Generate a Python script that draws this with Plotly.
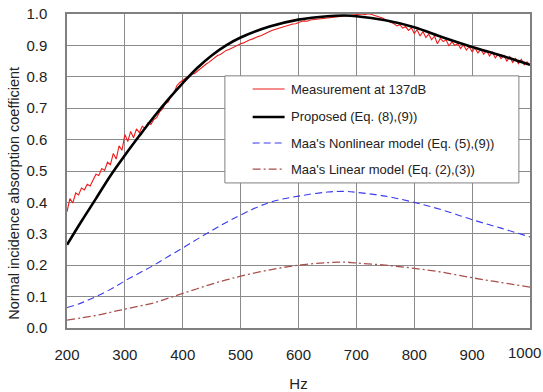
import plotly.graph_objects as go

# Frequency axis for the model curves (Hz)
freq_model = [200, 225, 250, 275, 300, 325, 350, 375, 400, 425, 450, 475, 500,
              550, 600, 650, 680, 700, 750, 800, 850, 900, 950, 1000]

proposed = [0.265, 0.340, 0.412, 0.485, 0.550, 0.612, 0.672, 0.728, 0.780, 0.828,
            0.868, 0.900, 0.925, 0.960, 0.982, 0.993, 0.995, 0.993, 0.980, 0.958,
            0.925, 0.895, 0.868, 0.838]

maa_nonlinear = [0.065, 0.080, 0.100, 0.123, 0.150, 0.175, 0.200, 0.228, 0.255, 0.283,
                 0.310, 0.336, 0.360, 0.400, 0.420, 0.433, 0.435, 0.432, 0.420, 0.400,
                 0.375, 0.345, 0.318, 0.290]

maa_linear = [0.025, 0.032, 0.040, 0.050, 0.060, 0.070, 0.080, 0.095, 0.110, 0.125,
              0.140, 0.153, 0.165, 0.185, 0.200, 0.208, 0.210, 0.207, 0.200, 0.190,
              0.177, 0.160, 0.145, 0.130]

# Measured absorption at 137 dB, 5 Hz resolution
freq_meas = list(range(200, 1001, 5))
measured = [
    0.370, 0.412, 0.398, 0.430, 0.424, 0.446, 0.440, 0.458, 0.452, 0.474,
    0.490, 0.486, 0.508, 0.502, 0.528, 0.520, 0.556, 0.538, 0.580, 0.566,
    0.616, 0.594, 0.626, 0.606, 0.634, 0.622, 0.642, 0.636, 0.654, 0.648,
    0.664, 0.670, 0.688, 0.698, 0.714, 0.720, 0.740, 0.750, 0.772, 0.782,
    0.790, 0.796, 0.800, 0.808, 0.810, 0.818, 0.825, 0.833, 0.840, 0.846,
    0.854, 0.860, 0.868, 0.871, 0.878, 0.884, 0.887, 0.892, 0.897, 0.900,
    0.905, 0.908, 0.913, 0.917, 0.920, 0.925, 0.928, 0.931, 0.936, 0.940,
    0.944, 0.948, 0.951, 0.953, 0.957, 0.959, 0.963, 0.964, 0.968, 0.969,
    0.973, 0.976, 0.978, 0.977, 0.981, 0.982, 0.984, 0.985, 0.986, 0.987,
    0.988, 0.987, 0.990, 0.991, 0.992, 0.991, 0.994, 0.993, 0.995, 0.997,
    0.996, 0.998, 1.000, 0.998, 1.001, 0.999, 0.996, 0.994, 0.990, 0.987,
    0.982, 0.978, 0.972, 0.969, 0.962, 0.966, 0.955, 0.960, 0.948, 0.956,
    0.938, 0.950, 0.930, 0.944, 0.925, 0.936, 0.918, 0.930, 0.905, 0.922,
    0.912, 0.918, 0.898, 0.912, 0.900, 0.906, 0.890, 0.902, 0.885, 0.896,
    0.880, 0.892, 0.876, 0.888, 0.872, 0.884, 0.866, 0.878, 0.860, 0.872,
    0.858, 0.868, 0.850, 0.864, 0.846, 0.858, 0.842, 0.856, 0.838, 0.848,
    0.836,
]

x_ticks = [200, 300, 400, 500, 600, 700, 800, 900, 1000]
y_ticks = [0.0, 0.1, 0.2, 0.3, 0.4, 0.5, 0.6, 0.7, 0.8, 0.9, 1.0]
# the last label is placed separately so it can sit inside the page edge
x_tick_text = [str(v) for v in x_ticks[:-1]] + [""]

legend_labels = ["Measurement at 137dB", "Proposed (Eq. (8),(9))",
                 "Maa's Nonlinear model (Eq. (5),(9))", "Maa's Linear model (Eq. (2),(3))"]

RED = "#ee1c1c"
BLACK = "#000000"
BLUE = "#3b3bf0"
BROWN = "#a8504c"

styles = [
    dict(color=RED, width=1.1, dash="solid"),
    dict(color=BLACK, width=2.6, dash="solid"),
    dict(color=BLUE, width=1.1, dash="7px,4px"),
    dict(color=BROWN, width=1.3, dash="8px,3px,2px,3px"),
]

fig = go.Figure()
fig.add_trace(go.Scatter(x=freq_model, y=maa_linear, mode="lines", line=styles[3],
                         line_shape="spline", name=legend_labels[3]))
fig.add_trace(go.Scatter(x=freq_model, y=maa_nonlinear, mode="lines", line=styles[2],
                         line_shape="spline", name=legend_labels[2]))
fig.add_trace(go.Scatter(x=freq_meas, y=measured, mode="lines", line=styles[0],
                         name=legend_labels[0]))
fig.add_trace(go.Scatter(x=freq_model, y=proposed, mode="lines", line=styles[1],
                         line_shape="spline", name=legend_labels[1]))

FONT = "Liberation Sans, Arial, sans-serif"

# Legend box drawn in paper coordinates
box_x0, box_x1 = 0.341, 0.976
box_y0, box_y1 = 0.462, 0.803
row_y = [0.761, 0.672, 0.589, 0.506]
sample_x0, sample_x1 = 0.401, 0.470
shapes = [dict(type="rect", xref="paper", yref="paper", x0=box_x0, x1=box_x1,
               y0=box_y0, y1=box_y1, line=dict(color="#808080", width=1),
               fillcolor="white", layer="above")]
annotations = []
for lbl, st, ry in zip(legend_labels, styles, row_y):
    shapes.append(dict(type="line", xref="paper", yref="paper", x0=sample_x0, x1=sample_x1,
                       y0=ry, y1=ry, line=dict(color=st["color"], width=st["width"],
                                               dash=st["dash"]), layer="above"))
    annotations.append(dict(text=lbl, xref="paper", yref="paper", x=0.480, y=ry,
                            xanchor="left", yanchor="middle", showarrow=False,
                            font=dict(family=FONT, size=13, color="#222")))

# label for the last x tick, pulled slightly left of its gridline
annotations.append(dict(text=str(x_ticks[-1]), xref="x", yref="paper", x=x_ticks[-1], y=0,
                        xanchor="center", yanchor="top", xshift=-6, yshift=-14,
                        showarrow=False, font=dict(family=FONT, size=15, color="#222")))

annotations.append(dict(text="Normal incidence absorption coefficient", xref="paper",
                        yref="paper", x=-0.115, y=0.43, textangle=-90, showarrow=False,
                        xanchor="center", yanchor="middle",
                        font=dict(family=FONT, size=14.5, color="#222")))

fig.update_layout(
    width=543, height=392,
    margin=dict(l=67, r=13, t=14, b=64),
    paper_bgcolor="white", plot_bgcolor="white",
    showlegend=False,
    shapes=shapes, annotations=annotations,
    font=dict(family=FONT, color="#222"),
)
fig.update_xaxes(range=[200, 1000], tickvals=x_ticks, ticktext=x_tick_text,
                 showgrid=True, gridcolor="#8a8a8a", gridwidth=1,
                 showline=True, linecolor="#808080", linewidth=1.5, mirror=True,
                 ticks="", ticklabelstandoff=12, ticklabeloverflow="allow",
                 automargin=False,
                 tickfont=dict(family=FONT, size=15),
                 title=dict(text="Hz", font=dict(family=FONT, size=15), standoff=23),
                 zeroline=False)
fig.update_yaxes(range=[0, 1], tickvals=y_ticks, ticktext=[f"{v:.1f}" for v in y_ticks],
                 showgrid=True, gridcolor="#8a8a8a", gridwidth=1,
                 showline=True, linecolor="#808080", linewidth=1.5, mirror=True,
                 ticks="", ticklabelstandoff=15, automargin=False,
                 tickfont=dict(family=FONT, size=15),
                 zeroline=False)

fig.write_html("out.html")
